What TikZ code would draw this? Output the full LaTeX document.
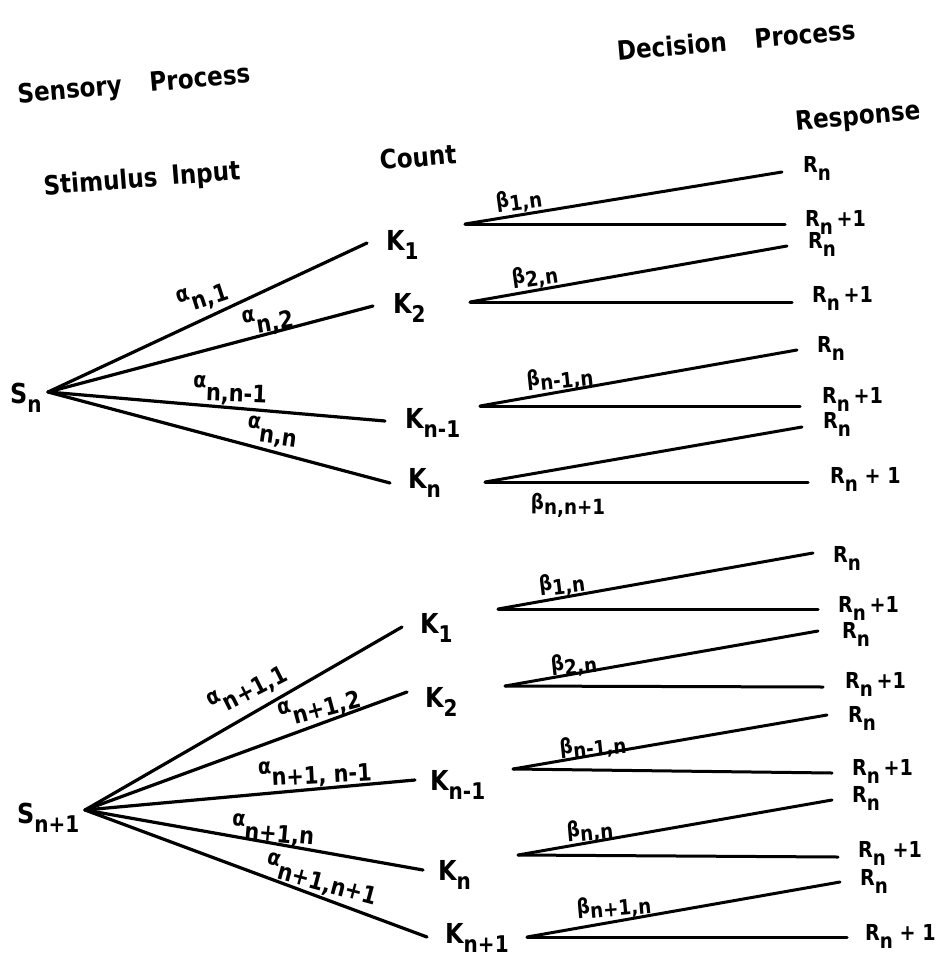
\documentclass[tikz,border=0pt]{standalone}
\usepackage{fontspec}
\setmainfont{DejaVu Sans}[BoldFont={DejaVu Sans Bold}, BoldFeatures={FakeStretch=0.87}]
\newcommand\ksub[1]{\raisebox{-0.36em}{\fontsize{23}{25}\selectfont #1}}
\newcommand\rsub[1]{\raisebox{-0.38em}{\fontsize{21}{23}\selectfont #1}}
\newcommand\alab[1]{{\fontsize{22}{23}\selectfont α}\raisebox{-0.52em}{#1}}
\newcommand\blab[1]{{\fontsize{21}{23}\selectfont β}\raisebox{-0.25em}{#1}}
\begin{document}
\begin{tikzpicture}[x=1pt,y=-1pt,
  fanline/.style={line width=3.2pt, line cap=round},
  decline/.style={line width=3pt, line cap=round},
  head/.style={font=\fontsize{26.5}{29}\selectfont\bfseries, inner sep=0pt},
  klab/.style={anchor=base west, inner sep=0pt, font=\fontsize{27.5}{30}\selectfont\bfseries},
  rlab/.style={anchor=base west, inner sep=0pt, font=\fontsize{22}{25}\selectfont\bfseries},
  plab/.style={inner sep=0pt, font=\fontsize{24}{27}\selectfont\bfseries},
  blabs/.style={inner sep=0pt, font=\fontsize{21}{23}\selectfont\bfseries},
]
\useasboundingbox (0,0) rectangle (941,960);

% headers
\node[head, rotate=5] (hsens) at (134,86) {Sensory\hspace{28pt}Process};
\node[head, rotate=4.5] (hstim) at (142,180) {Stimulus\hspace{14pt}Input};
\node[head, rotate=5] (hcount) at (418,157) {Count};
\node[head, rotate=5] (hdec) at (736,40) {Decision\hspace{28pt}Process};
\node[head, rotate=5] (hresp) at (858,118) {Response};

% ---------------- top sensory fan
\node[klab] (S1) at (10,403) {S\ksub{n}};
\coordinate (TA) at (48,392);
\coordinate (tk1) at (367,243);
\coordinate (tk2) at (373,306);
\coordinate (tk3) at (385,421);
\coordinate (tk4) at (390,483);
\node[klab] (TK1) at (386,250) {K\ksub{1}};
\node[klab] (TK2) at (393,313) {K\ksub{2}};
\node[klab] (TK3) at (405,428) {K\ksub{n-1}};
\node[klab] (TK4) at (408,488) {K\ksub{n}};
\draw[fanline] (TA) -- (tk1);
\draw[fanline] (TA) -- (tk2);
\draw[fanline] (TA) -- (tk3);
\draw[fanline] (TA) -- (tk4);
\node[plab, rotate=18] (ta1) at (203,297) {\alab{n,1}};
\node[plab, rotate=10] (ta2) at (268,321) {\alab{n,2}};
\node[plab, rotate=-2] (ta3) at (230,391) {\alab{n,n-1}};
\node[plab, rotate=-8] (ta4) at (272,433) {\alab{n,n}};

% ---------------- top decision fans
\coordinate (F1a) at (465,224); \coordinate (F1u) at (782,172); \coordinate (F1l) at (785,224);
\coordinate (F2a) at (470,302); \coordinate (F2u) at (787,246); \coordinate (F2l) at (792,302);
\coordinate (F3a) at (480,406); \coordinate (F3u) at (797,350); \coordinate (F3l) at (800,406);
\coordinate (F4a) at (485,482); \coordinate (F4u) at (802,427); \coordinate (F4l) at (808,482);
\foreach \i in {1,2,3,4}{
  \draw[decline] (F\i a) -- (F\i u);
  \draw[decline] (F\i a) -- (F\i l);
}
\node[rlab] (F1R) at (803,172) {R\rsub{n}};
\node[rlab] (F1S) at (805,226) {R\rsub{n}\,+1};
\node[rlab] (F2R) at (808,248) {R\rsub{n}};
\node[rlab] (F2S) at (812,302) {R\rsub{n}\,+1};
\node[rlab] (F3R) at (817,352) {R\rsub{n}};
\node[rlab] (F3S) at (822,403) {R\rsub{n}\,+1};
\node[rlab] (F4R) at (823,428) {R\rsub{n}};
\node[rlab] (F4S) at (830,483) {R\rsub{n} + 1};
\node[blabs, rotate=8] (tb1) at (519,201) {\blab{1,n}};
\node[blabs, rotate=8] (tb2) at (535,277) {\blab{2,n}};
\node[blabs, rotate=6] (tb3) at (560,379) {\blab{n-1,n}};
\node[blabs] (tb4) at (568,505) {\blab{n,n+1}};

% ---------------- bottom sensory fan
\node[klab] (S2) at (17,823) {S\ksub{n+1}};
\coordinate (BA) at (85,810);
\coordinate (bk1) at (402,627);
\coordinate (bk2) at (407,692);
\coordinate (bk3) at (415,780);
\coordinate (bk4) at (423,870);
\coordinate (bk5) at (427,937);
\node[klab] (BK1) at (420,633) {K\ksub{1}};
\node[klab] (BK2) at (425,707) {K\ksub{2}};
\node[klab] (BK3) at (430,790) {K\ksub{n-1}};
\node[klab] (BK4) at (438,880) {K\ksub{n}};
\node[klab] (BK5) at (445,943) {K\ksub{n+1}};
\foreach \i in {1,...,5}{ \draw[fanline] (BA) -- (bk\i); }
\node[plab, rotate=27] (ba1) at (248,689) {\alab{n+1,1}};
\node[plab, rotate=15] (ba2) at (320,707) {\alab{n+1,2}};
\node[plab, rotate=3] (ba3) at (315,773) {\alab{n+1, n-1}};
\node[plab, rotate=-5] (ba4) at (273,831) {\alab{n+1,n}};
\node[plab, rotate=-15] (ba5) at (322,880) {\alab{n+1,n+1}};

% ---------------- bottom decision fans
\coordinate (G1a) at (498,609); \coordinate (G1u) at (813,553); \coordinate (G1l) at (818,609);
\coordinate (G2a) at (505,686); \coordinate (G2u) at (818,631); \coordinate (G2l) at (823,687);
\coordinate (G3a) at (513,769); \coordinate (G3u) at (827,715); \coordinate (G3l) at (832,773);
\coordinate (G4a) at (518,855); \coordinate (G4u) at (832,800); \coordinate (G4l) at (838,857);
\coordinate (G5a) at (527,937); \coordinate (G5u) at (840,882); \coordinate (G5l) at (847,937);
\foreach \i in {1,...,5}{
  \draw[decline] (G\i a) -- (G\i u);
  \draw[decline] (G\i a) -- (G\i l);
}
\node[rlab] (G1R) at (833,562) {R\rsub{n}};
\node[rlab] (G1S) at (838,612) {R\rsub{n}\,+1};
\node[rlab] (G2R) at (842,638) {R\rsub{n}};
\node[rlab] (G2S) at (845,688) {R\rsub{n}\,+1};
\node[rlab] (G3R) at (848,722) {R\rsub{n}};
\node[rlab] (G3S) at (852,775) {R\rsub{n}\,+1};
\node[rlab] (G4R) at (852,802) {R\rsub{n}};
\node[rlab] (G4S) at (858,857) {R\rsub{n} +1};
\node[rlab] (G5R) at (860,885) {R\rsub{n}};
\node[rlab] (G5S) at (865,940) {R\rsub{n} + 1};
\node[blabs, rotate=7] (bb1) at (562,585) {\blab{1,n}};
\node[blabs, rotate=6] (bb2) at (574,665) {\blab{2,n}};
\node[blabs, rotate=6] (bb3) at (593,747) {\blab{n-1,n}};
\node[blabs, rotate=5] (bb4) at (590,831) {\blab{n,n}};
\node[blabs, rotate=5] (bb5) at (614,907) {\blab{n+1,n}};
\end{tikzpicture}
\end{document}
